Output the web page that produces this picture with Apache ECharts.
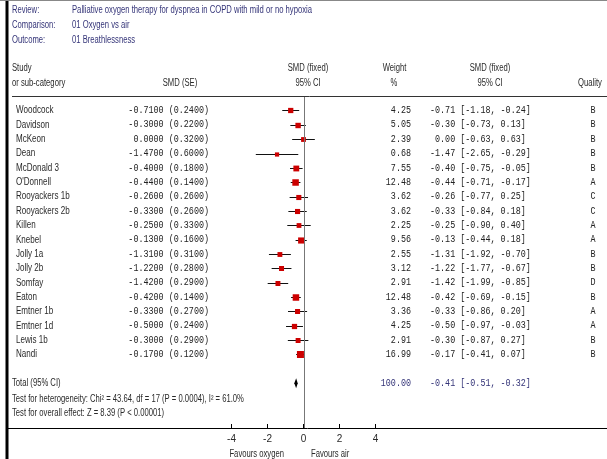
<!DOCTYPE html>
<html><head><meta charset="utf-8">
<script src="https://cdn.jsdelivr.net/npm/echarts@6/dist/echarts.min.js"></script>
<style>html,body{margin:0;padding:0;background:#fff}#c{width:607px;height:459px}</style>
</head><body><div id="c"></div>
<script>
// ---- data ----
const studies = ["Woodcock","Davidson","McKeon","Dean","McDonald 3","O'Donnell","Rooyackers 1b","Rooyackers 2b","Killen","Knebel","Jolly 1a","Jolly 2b","Somfay","Eaton","Emtner 1b","Emtner 1d","Lewis 1b","Nandi"];
const smd = [-0.71,-0.30,0.00,-1.47,-0.40,-0.44,-0.26,-0.33,-0.25,-0.13,-1.31,-1.22,-1.42,-0.42,-0.33,-0.50,-0.30,-0.17];
const se = [0.24,0.22,0.32,0.60,0.18,0.14,0.26,0.26,0.33,0.16,0.31,0.28,0.29,0.14,0.27,0.24,0.29,0.12];
const ciLow = [-1.18,-0.73,-0.63,-2.65,-0.75,-0.71,-0.77,-0.84,-0.90,-0.44,-1.92,-1.77,-1.99,-0.69,-0.86,-0.97,-0.87,-0.41];
const ciHigh = [-0.24,0.13,0.63,-0.29,-0.05,-0.17,0.25,0.18,0.40,0.18,-0.70,-0.67,-0.85,-0.15,0.20,-0.03,0.27,0.07];
const weights = [4.25,5.05,2.39,0.68,7.55,12.48,3.62,3.62,2.25,9.56,2.55,3.12,2.91,12.48,3.36,4.25,2.91,16.99];
const quality = ["B","B","B","B","B","A","C","C","A","A","B","B","D","B","A","A","B","B"];
const totalLabel = "Total (95% CI)";
const totalEst = -0.41, totalLow = -0.51, totalHigh = -0.32, totalWeight = 100.00;
const xTicks = [-4, -2, 0, 2, 4];
const categories = studies.concat(["", totalLabel]);

// ---- layout / style ----
const SANS = '"Liberation Sans", Arial, sans-serif';
const MONO = '"Liberation Mono", "Courier New", monospace';
const cv = document.createElement('canvas').getContext('2d');
cv.font = '10px ' + SANS;
const sansScale = 240 / cv.measureText("Palliative oxygen therapy for dyspnea in COPD with mild or no hypoxia").width;
const monoScale = 0.84;
const NAVY = '#343478';
const DARK = '#2a2a2a';

function fmt(v, d) { return v.toFixed(d); }
function ciStr(e, l, h) {
  let s = fmt(e, 2); if (s === "-0.00") s = "0.00";
  s = s.padStart(5, ' ');
  return s + ' [' + fmt(l, 2) + ', ' + fmt(h, 2) + ']';
}
function sText(x, y, text, opt) {
  opt = opt || {};
  return { type: 'text', x: x, y: y, scaleX: opt.scale || sansScale, silent: true,
    style: { text: text, font: (opt.size || 10) + 'px ' + (opt.font || SANS), fill: opt.color || DARK,
      align: opt.align || 'left', verticalAlign: 'middle' } };
}
function mText(x, y, text, align, color) {
  return { type: 'text', x: x, y: y, scaleX: monoScale, silent: true,
    style: { text: text, font: '10px ' + MONO, fill: color || '#222', align: align, verticalAlign: 'middle' } };
}

const rowData = studies.map((s, i) => [smd[i], i, ciLow[i], ciHigh[i], weights[i]]);

const chart = echarts.init(document.getElementById('c'), null, { renderer: 'canvas' });
chart.setOption({
  animation: false,
  backgroundColor: '#fff',
  grid: { left: 231.5, right: 231.5, top: 103.3, height: 287 },
  xAxis: {
    type: 'value', min: -4, max: 4, interval: 2, offset: 37.7,
    axisLine: { show: false, onZero: false },
    axisTick: { show: true, inside: true, length: 4, lineStyle: { color: '#000' } },
    axisLabel: { margin: 6, fontSize: 10, fontFamily: SANS, color: DARK,
      customValues: xTicks },
    splitLine: { show: false }
  },
  yAxis: { type: 'category', data: categories, inverse: true, show: false },
  graphic: [
    { type: 'rect', shape: { x: 5.5, y: 0, width: 3, height: 459 }, style: { fill: '#000' }, silent: true },
    { type: 'line', shape: { x1: 0, y1: 0.5, x2: 607, y2: 0.5 }, style: { stroke: '#888', lineWidth: 1 }, silent: true },
    { type: 'line', shape: { x1: 12, y1: 96.5, x2: 607, y2: 96.5 }, style: { stroke: '#333', lineWidth: 1 }, silent: true },
    { type: 'line', shape: { x1: 8, y1: 428.5, x2: 607, y2: 428.5 }, style: { stroke: '#000', lineWidth: 1 }, silent: true },
    sText(12, 10, "Review:", { color: NAVY }),
    sText(72, 10, "Palliative oxygen therapy for dyspnea in COPD with mild or no hypoxia", { color: NAVY }),
    sText(12, 25, "Comparison:", { color: NAVY }),
    sText(72, 25, "01 Oxygen vs air", { color: NAVY }),
    sText(12, 40, "Outcome:", { color: NAVY }),
    sText(72, 40, "01 Breathlessness", { color: NAVY }),
    sText(12, 68, "Study"),
    sText(12, 83, "or sub-category"),
    sText(180, 83, "SMD (SE)", { align: 'center' }),
    sText(308, 68, "SMD (fixed)", { align: 'center' }),
    sText(308, 83, "95% CI", { align: 'center' }),
    sText(394.5, 68, "Weight", { align: 'center' }),
    sText(394, 83, "%", { align: 'center' }),
    sText(490, 68, "SMD (fixed)", { align: 'center' }),
    sText(490, 83, "95% CI", { align: 'center' }),
    sText(590, 83, "Quality", { align: 'center' }),
    sText(12, 399, "Test for heterogeneity: Chi\u00B2 = 43.64, df = 17 (P = 0.0004), I\u00B2 = 61.0%"),
    sText(12, 413, "Test for overall effect: Z = 8.39 (P < 0.00001)"),
    sText(284, 454, "Favours oxygen", { align: 'right' }),
    sText(311, 454, "Favours air", { align: 'left' })
  ],
  series: [
    {
      type: 'custom', name: 'studies', data: rowData, clip: false,
      encode: { x: [0, 2, 3], y: 1 },
      renderItem: function (params, api) {
        const i = api.value(1);
        const p = api.coord([api.value(0), i]);
        const lo = api.coord([api.value(2), i]);
        const hi = api.coord([api.value(3), i]);
        const w = api.value(4);
        const sz = 3.5 + Math.sqrt(w) * 0.85;
        const y = Math.round(p[1]) + 0.5;
        const idx = params.dataIndex;
        return {
          type: 'group',
          children: [
            { type: 'line', shape: { x1: lo[0], y1: y, x2: hi[0], y2: y }, style: { stroke: '#111', lineWidth: 1 } },
            { type: 'rect', shape: { x: p[0] - sz / 2, y: y - sz / 2, width: sz, height: sz }, style: { fill: '#cc0000' } },
            sText(16, p[1], studies[idx], { size: 10.5 }),
            mText(209, p[1], fmt(smd[idx], 4) + ' (' + fmt(se[idx], 4) + ')', 'right'),
            mText(411, p[1], fmt(w, 2), 'right'),
            mText(430, p[1], ciStr(smd[idx], ciLow[idx], ciHigh[idx]), 'left'),
            mText(593, p[1], quality[idx], 'center')
          ]
        };
      }
    },
    {
      type: 'custom', name: 'total', clip: false,
      data: [[totalEst, categories.length - 1, totalLow, totalHigh, totalWeight]],
      encode: { x: [0, 2, 3], y: 1 },
      renderItem: function (params, api) {
        const r = api.value(1);
        const p = api.coord([api.value(0), r]);
        const lo = api.coord([api.value(2), r]);
        const hi = api.coord([api.value(3), r]);
        const z = api.coord([0, r]);
        const y = p[1];
        return {
          type: 'group',
          children: [
            { type: 'line', shape: { x1: Math.round(z[0]) + 0.5, y1: 97, x2: Math.round(z[0]) + 0.5, y2: 428 }, style: { stroke: '#777', lineWidth: 1 } },
            { type: 'polygon', shape: { points: [[lo[0], y], [p[0], y - 5], [hi[0], y], [p[0], y + 5]] }, style: { fill: '#000' } },
            sText(12, y, totalLabel),
            mText(411, y, fmt(api.value(4), 2), 'right', NAVY),
            mText(430, y, ciStr(totalEst, totalLow, totalHigh), 'left', NAVY)
          ]
        };
      }
    }
  ]
});
</script></body></html>
